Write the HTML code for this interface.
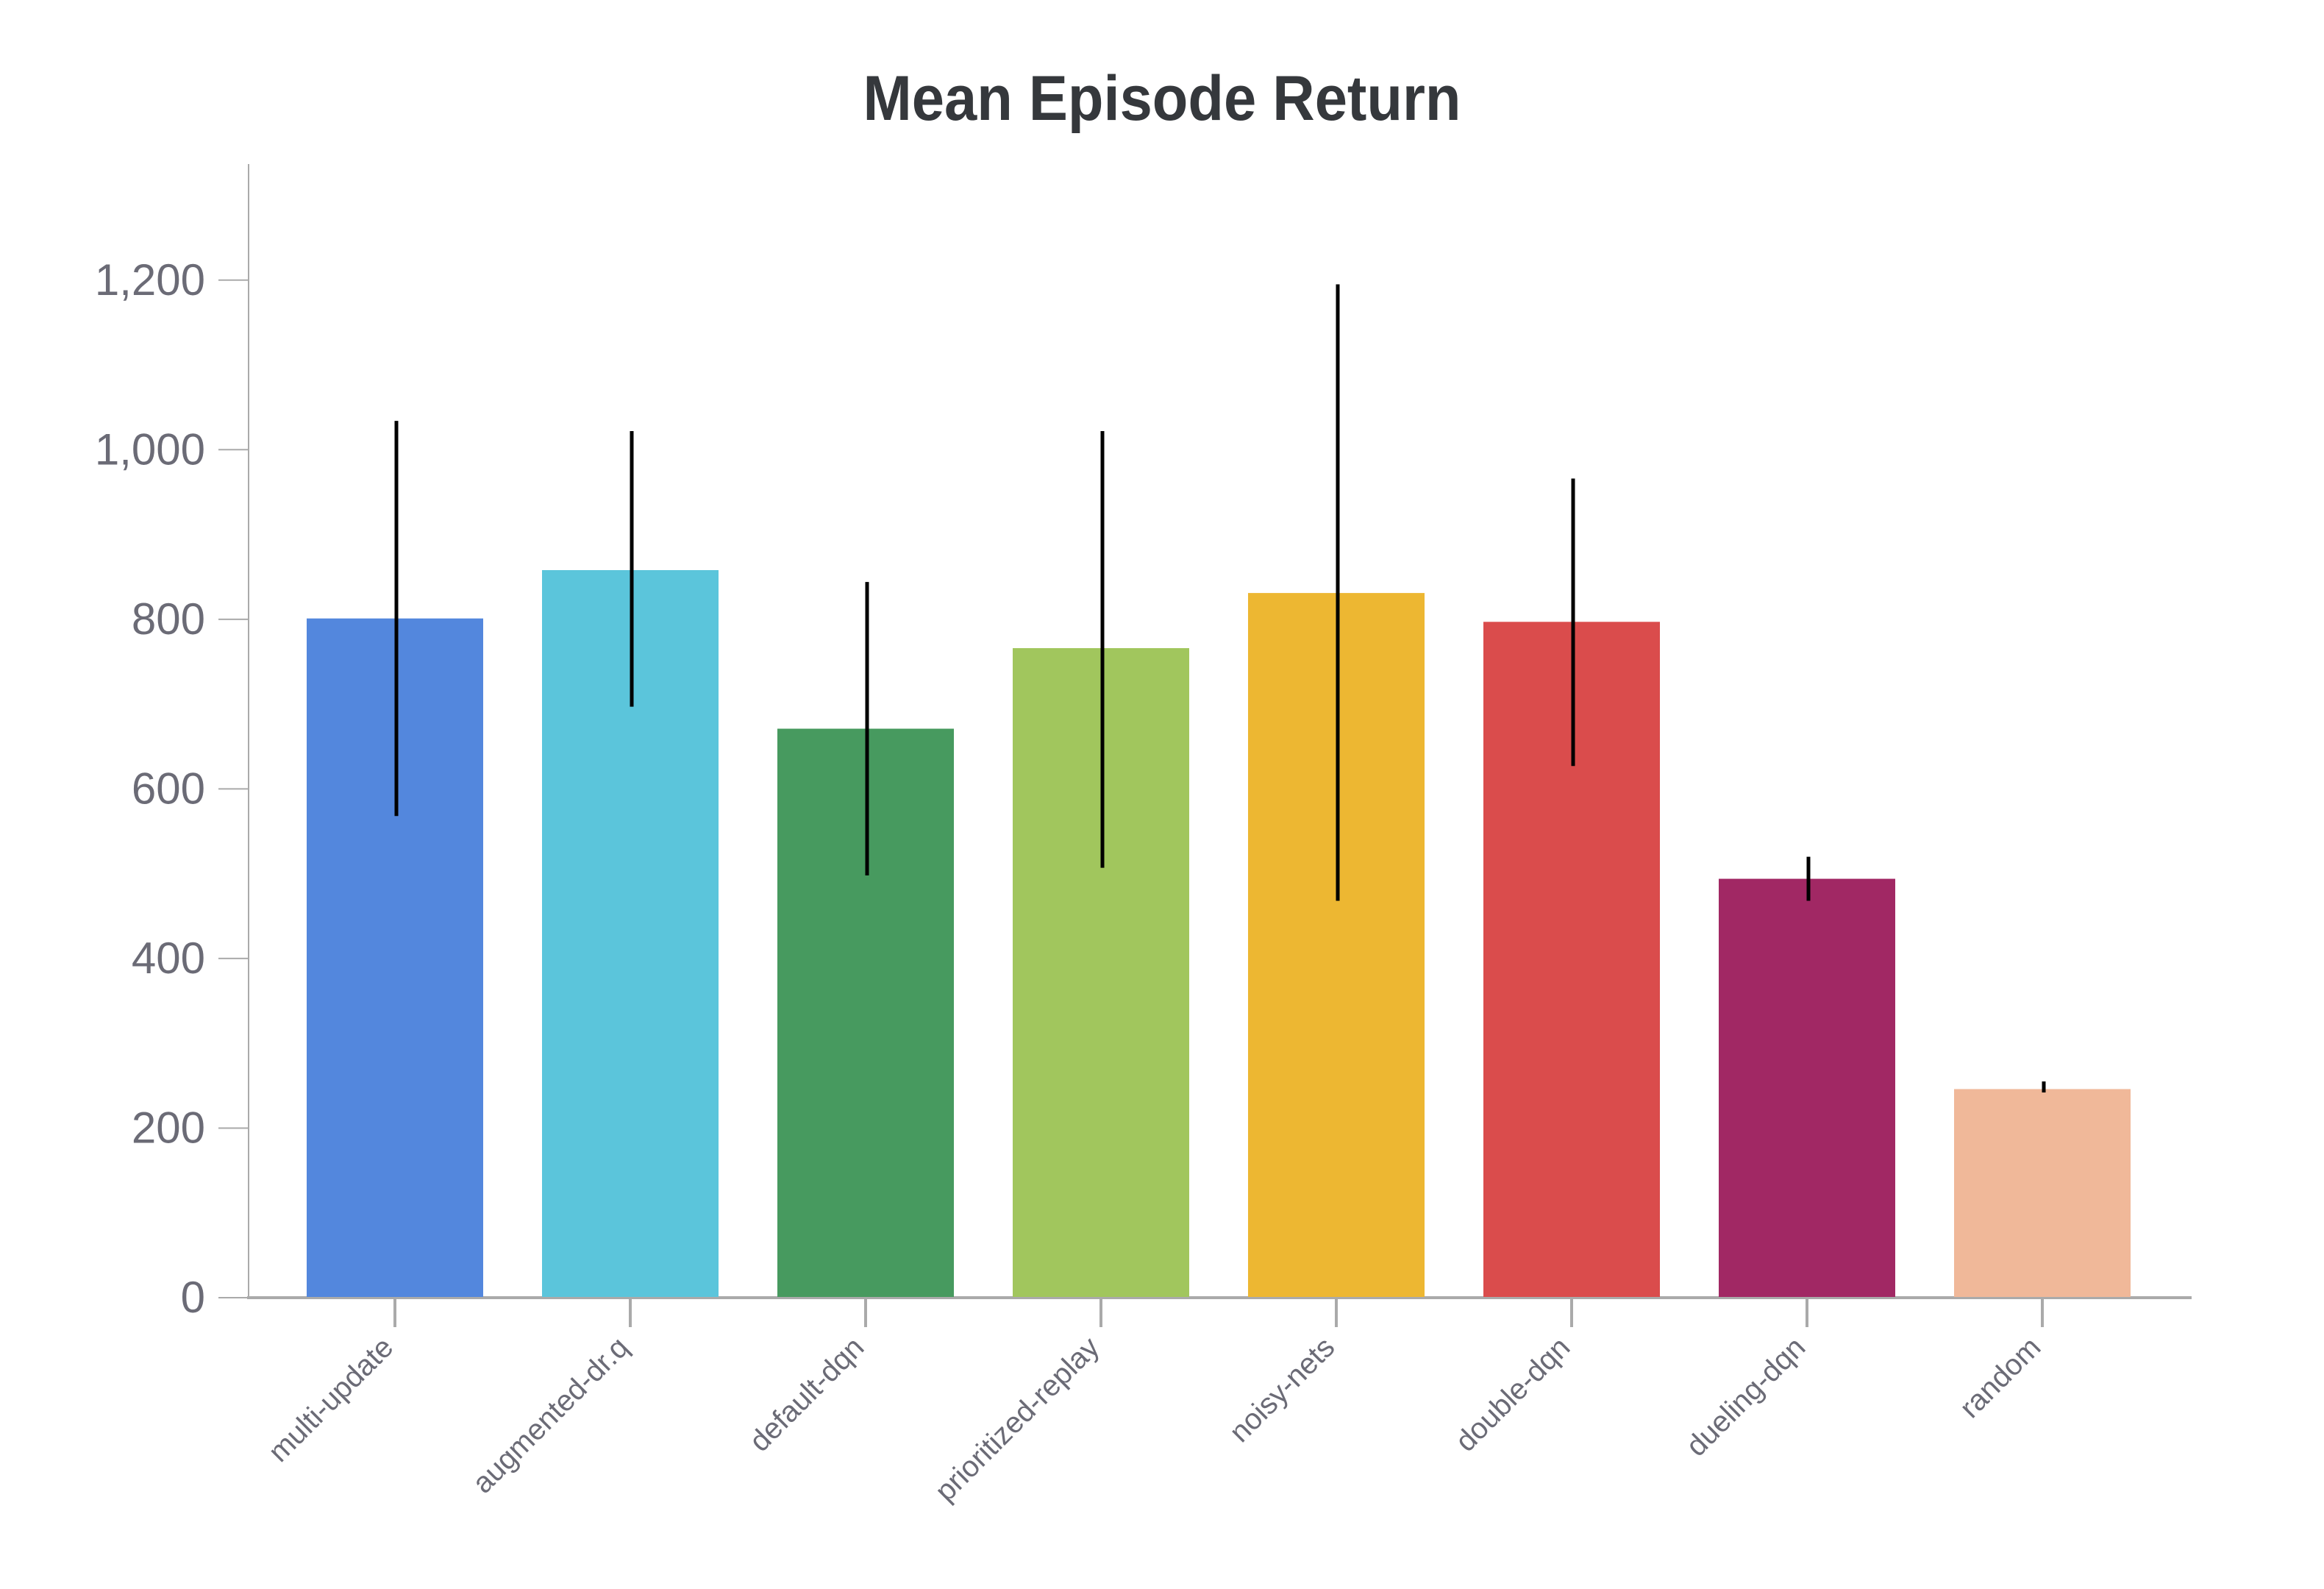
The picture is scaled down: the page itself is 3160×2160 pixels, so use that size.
<!DOCTYPE html>
<html><head><meta charset="utf-8"><style>html,body{margin:0;padding:0;background:#fff}svg{display:block}</style></head>
<body>
<svg id="chart" width="3160" height="2160" viewBox="0 0 3160 2160" xmlns="http://www.w3.org/2000/svg">
<text x="1580" y="163" text-anchor="middle" font-family="Liberation Sans, sans-serif" font-weight="bold" font-size="86" fill="#35383c" textLength="813" lengthAdjust="spacingAndGlyphs">Mean Episode Return</text>
<g id="axes"></g><g id="bars"></g><g id="errs"></g>
</svg>
<script>
const categories = ["multi-update","augmented-dr.q","default-dqn","prioritized-replay","noisy-nets","double-dqn","dueling-dqn","random"];
const means = [801, 858, 671, 766, 831, 797, 494, 246];
const errLow = [568, 697, 498, 507, 468, 627, 468, 242];
const errHigh = [1034, 1022, 844, 1022, 1195, 966, 520, 255];
const colors = ["#5387dd","#5bc5db","#479a5f","#a1c65d","#edb732","#da4c4c","#a12864","#f0b899"];
const yTicks = [0, 200, 400, 600, 800, 1000, 1200];
const yTickLabels = ["0","200","400","600","800","1,000","1,200"];

const NS = "http://www.w3.org/2000/svg";
const y0 = 1764, pxPerUnit = 1.1527;
const yScale = v => y0 - v * pxPerUnit;
const xCenter = i => 537 + i * 320;
const barW = 240;
function mk(tag, attrs, parent) {
  const e = document.createElementNS(NS, tag);
  for (const k in attrs) e.setAttribute(k, attrs[k]);
  parent.appendChild(e);
  return e;
}
const axes = document.getElementById('axes');
const bars = document.getElementById('bars');
const errs = document.getElementById('errs');

const yAxis = mk('line', {x1:338, y1:223, x2:338, y2:y0, stroke:'#aaa', 'stroke-width':2}, axes);


yTicks.forEach((t, i) => {
  const y = yScale(t);
  const tk = mk('line', {x1:297, y1:y, x2:338, y2:y, stroke:'#aaa', 'stroke-width':2}, axes);
  
  
  const lb = mk('text', {x:279, y:y + 20, 'text-anchor':'end', 'font-family':'Liberation Sans, sans-serif', 'font-size':60, fill:'#6b6b76'}, axes);
  lb.textContent = yTickLabels[i];
  
  
});
const xAxis = mk('line', {x1:336, y1:y0, x2:2980, y2:y0, stroke:'#aaa', 'stroke-width':4}, axes);



categories.forEach((c, i) => {
  const cx = xCenter(i);
  const r = mk('rect', {x:cx - barW/2, y:yScale(means[i]), width:barW, height:y0 - 1 - yScale(means[i]), fill:colors[i]}, bars);
  
  
  const e = mk('line', {x1:cx + 2, y1:yScale(errHigh[i]), x2:cx + 2, y2:yScale(errLow[i]), stroke:'#000', 'stroke-width':5}, errs);
  
  
  const tk = mk('line', {x1:cx, y1:y0 + 2, x2:cx, y2:1804, stroke:'#aaa', 'stroke-width':4}, axes);
  
  
  const lb = mk('text', {x:cx, y:1834, 'text-anchor':'end', 'font-family':'Liberation Sans, sans-serif', 'font-size':40, fill:'#6b6b76', transform:'rotate(-45 ' + cx + ' 1834)'}, axes);
  lb.textContent = c;
  
  
});
</script>
</body></html>
